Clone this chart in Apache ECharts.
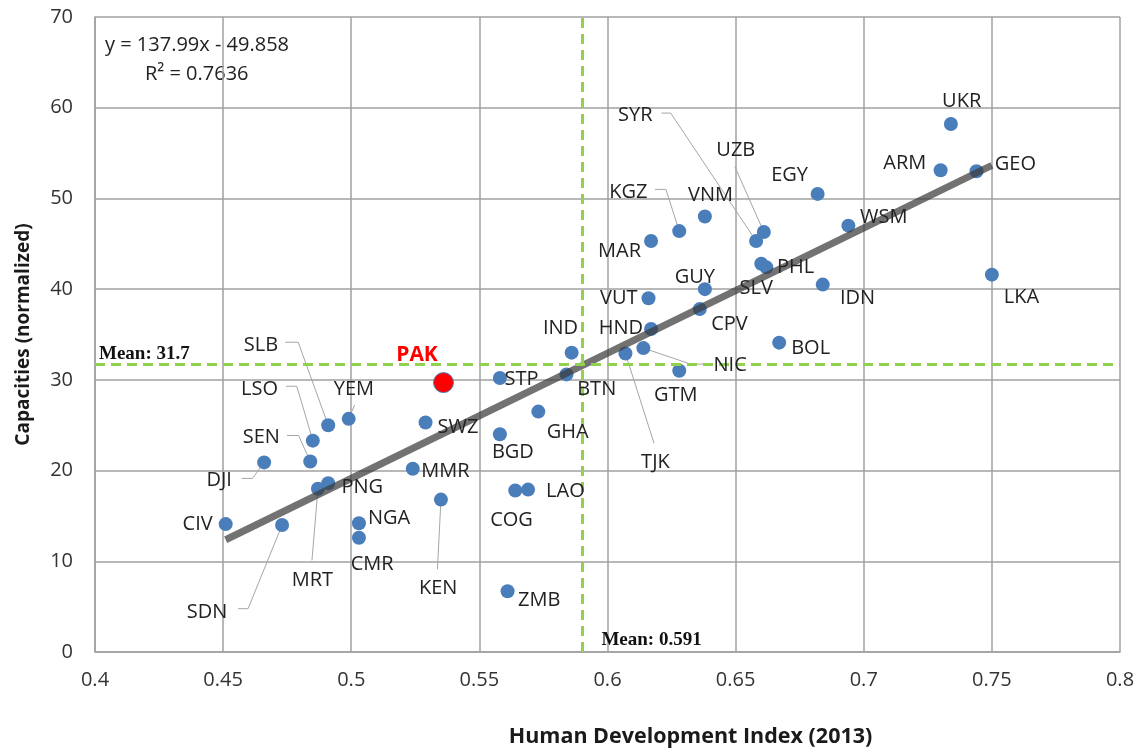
<!DOCTYPE html>
<html>
<head>
<meta charset="utf-8">
<script src="https://cdn.jsdelivr.net/npm/echarts@6/dist/echarts.min.js"></script>
<style>
  html, body { margin: 0; padding: 0; background: #ffffff; }
  #chart { width: 1141px; height: 753px; }
</style>
</head>
<body>
<div id="chart"></div>
<script>
// Country codes, HDI 2013 and normalized capacity scores
const countries = ['CIV','SDN','DJI','SEN','LSO','SLB','YEM','MRT','PNG','NGA','CMR','MMR','SWZ','KEN','PAK',
  'STP','BGD','GHA','COG','LAO','ZMB','IND','BTN','TJK','NIC','GTM','HND','VUT','CPV','GUY','MAR','KGZ','VNM',
  'SYR','UZB','SLV','PHL','EGY','IDN','BOL','WSM','ARM','GEO','UKR','LKA'];
const hdi = [0.451,0.473,0.466,0.484,0.485,0.491,0.499,0.487,0.491,0.503,0.503,0.524,0.529,0.535,0.536,
  0.558,0.558,0.573,0.564,0.569,0.561,0.586,0.584,0.607,0.614,0.628,0.617,0.616,0.636,0.638,0.617,0.628,0.638,
  0.658,0.661,0.660,0.662,0.682,0.684,0.667,0.694,0.730,0.744,0.734,0.750];
const capacities = [14.1,14.0,20.9,21.0,23.3,25.0,25.7,18.0,18.6,14.2,12.6,20.2,25.3,16.8,29.7,
  30.2,24.0,26.5,17.8,17.9,6.7,33.0,30.6,32.9,33.5,31.0,35.6,39.0,37.8,40.0,45.3,46.4,48.0,
  45.3,46.3,42.8,42.4,50.5,40.5,34.1,47.0,53.1,53.0,58.2,41.6];
const highlightCountry = 'PAK';

// Axis ranges and reference values
const xRange = [0.4, 0.8, 0.05];
const yRange = [0, 70, 10];
const meanHdi = 0.591;
const meanCapacity = 31.7;
const trendSlope = 137.99;
const trendIntercept = -49.858;
const rSquared = 0.7636;

// Label offsets from each marker (px): [dx, dy, align]
const labelPlacement = {
  CIV: [-13, 0, 'right'],  SDN: [-75, 87, 'center'], DJI: [-45, 17.7, 'center'], SEN: [-49, -24.4, 'center'],
  LSO: [-53.3, -51.7, 'center'], SLB: [-67.2, -80, 'center'], YEM: [5.2, -30, 'center'], MRT: [-5.5, 91.7, 'center'],
  PNG: [13.3, 4, 'left'], NGA: [9, -4.7, 'left'], CMR: [13.2, 26.7, 'center'], MMR: [8.5, 2.7, 'left'],
  SWZ: [12, 4.5, 'left'], KEN: [-2.8, 89, 'center'], PAK: [-26.5, -27.3, 'center'], STP: [4.6, 1.7, 'left'],
  BGD: [13, 18.3, 'center'], GHA: [29.3, 20.7, 'center'], COG: [-3.7, 29.4, 'center'], LAO: [18, 2, 'left'],
  ZMB: [10.4, 9, 'left'], IND: [-11.1, -24, 'center'], BTN: [30.2, 14.7, 'center'], TJK: [30, 109, 'center'],
  NIC: [86.8, 17.2, 'center'], GTM: [-3.6, 24.4, 'center'], HND: [-8, -0.5, 'right'], VUT: [-11, 0, 'right'],
  CPV: [29.7, 15, 'center'], GUY: [-10, -11.7, 'center'], MAR: [-10, 10.7, 'right'], KGZ: [-51, -39, 'center'],
  VNM: [5.6, -21, 'center'], SYR: [-120.9, -125.6, 'center'], UZB: [-28, -82, 'center'], SLV: [-5, 24.3, 'center'],
  PHL: [10.7, 0, 'left'], EGY: [-28, -18.3, 'center'], IDN: [34.8, 14, 'center'], BOL: [12, 5.3, 'left'],
  WSM: [11.6, -8.4, 'left'], ARM: [-14.3, -7.4, 'right'], GEO: [18.3, -6.7, 'left'], UKR: [10.8, -22.6, 'center'],
  LKA: [29.5, 23, 'center']
};

// Leader line bends relative to the marker (px); the line ends at the marker
const leaderLines = {
  SLB: [[-43, -83], [-30, -83]],
  LSO: [[-27, -54.4], [-16, -54.4]],
  SEN: [[-23.3, -26], [-11.7, -26]],
  DJI: [[-22.6, 16], [-11.6, 16]],
  SDN: [[-44, 83.7], [-34, 83.7]],
  MRT: [[-6, 71.7]],
  KEN: [[-3.5, 69.7]],
  YEM: [[6, -14]],
  TJK: [[28.6, 89.7]],
  NIC: [[65.3, 16], [47.3, 16]],
  KGZ: [[-24.3, -41.7], [-13.3, -41.7]],
  SYR: [[-94.7, -128], [-85.4, -128]],
  UZB: [[-29, -65.4]]
};

const FONT = '"Open Sans", "Noto Sans", sans-serif';
const points = countries.map((c, i) => [hdi[i], capacities[i]]);
const bluePoints = points.filter((p, i) => countries[i] !== highlightCountry);
const redPoints = points.filter((p, i) => countries[i] === highlightCountry);

const xLo = Math.min(...hdi), xHi = Math.max(...hdi);
const trendData = [[xLo, trendSlope * xLo + trendIntercept], [xHi, trendSlope * xHi + trendIntercept]];

const meanLabels = [
  { value: [xRange[0], meanCapacity], text: 'Mean: ' + meanCapacity, dx: 4, dy: -10.7 },
  { value: [meanHdi, yRange[0]], text: 'Mean: ' + meanHdi, dx: 17, dy: -12.3 }
];

const chart = echarts.init(document.getElementById('chart'), null, { renderer: 'canvas' });

const axisLineStyle = { color: '#a0a0a0', width: 1.5 };

chart.setOption({
  animation: false,
  backgroundColor: '#ffffff',
  grid: { left: 95, right: 21, top: 17, bottom: 99, containLabel: false },
  xAxis: {
    type: 'value', min: xRange[0], max: xRange[1], interval: xRange[2],
    name: 'Human Development Index (2013)', nameLocation: 'middle', nameGap: 74,
    nameTextStyle: { fontFamily: FONT, fontSize: 21.5, fontWeight: 'bold', color: '#1a1a1a', padding: [0, 0, 0, 166] },
    axisLine: { show: true, lineStyle: axisLineStyle },
    axisTick: { show: false },
    axisLabel: { fontFamily: FONT, fontSize: 20, color: '#333333', margin: 18 },
    splitLine: { show: true, lineStyle: axisLineStyle }
  },
  yAxis: {
    type: 'value', min: yRange[0], max: yRange[1], interval: yRange[2],
    name: 'Capacities (normalized)', nameLocation: 'middle', nameGap: 62,
    nameTextStyle: { fontFamily: FONT, fontSize: 19, fontWeight: 'bold', color: '#1a1a1a' },
    axisLine: { show: true, lineStyle: axisLineStyle },
    axisTick: { show: false },
    axisLabel: { fontFamily: FONT, fontSize: 20, color: '#333333', margin: 22 },
    splitLine: { show: true, lineStyle: axisLineStyle }
  },
  graphic: [
    { type: 'text', x: 105, y: 45, silent: true,
      style: { text: 'y = ' + trendSlope + 'x - ' + Math.abs(trendIntercept), font: '20px ' + FONT, fill: '#222222', verticalAlign: 'middle' } },
    { type: 'text', x: 145, y: 74, silent: true,
      style: { text: 'R\u00b2 = ' + rSquared, font: '20px ' + FONT, fill: '#222222', verticalAlign: 'middle' } }
  ],
  series: [
    {
      // mean reference lines
      type: 'line', data: [], z: 1, silent: true,
      markLine: {
        silent: true, symbol: 'none', animation: false,
        lineStyle: { color: '#92d050', width: 3, type: [10, 6] },
        label: { show: false },
        data: [{ yAxis: meanCapacity }, { xAxis: meanHdi }]
      }
    },
    {
      // leader lines from labels to markers
      type: 'custom', z: 2, silent: true,
      data: points,
      renderItem: function (params, api) {
        const lead = leaderLines[countries[params.dataIndex]];
        if (!lead) return null;
        const pt = api.coord([api.value(0), api.value(1)]);
        const pts = lead.map(o => [pt[0] + o[0], pt[1] + o[1]]).concat([pt]);
        return { type: 'polyline', shape: { points: pts }, style: { stroke: '#a6a6a6', lineWidth: 1, fill: null } };
      }
    },
    {
      name: 'Countries', type: 'scatter', z: 3, data: bluePoints,
      symbolSize: 14, itemStyle: { color: '#4a7ebb', opacity: 1 }
    },
    {
      name: highlightCountry, type: 'scatter', z: 3, data: redPoints,
      symbolSize: 20, itemStyle: { color: '#ff0000', borderColor: '#4a7ebb', borderWidth: 1, opacity: 1 }
    },
    {
      name: 'Trend', type: 'line', z: 4, data: trendData, symbol: 'none', silent: true,
      lineStyle: { color: 'rgba(60,60,60,0.72)', width: 7, cap: 'butt' }
    },
    {
      // country code labels
      type: 'custom', z: 5, silent: true,
      data: points,
      renderItem: function (params, api) {
        const code = countries[params.dataIndex];
        const p = labelPlacement[code];
        const pt = api.coord([api.value(0), api.value(1)]);
        const hi = code === highlightCountry;
        return {
          type: 'text', x: pt[0] + p[0], y: pt[1] + p[1],
          style: {
            text: code, fill: hi ? '#ff0000' : '#222222',
            font: (hi ? 'bold 21px ' : '20px ') + FONT,
            align: p[2], verticalAlign: 'middle'
          }
        };
      }
    },
    {
      // mean value captions
      type: 'custom', z: 5, silent: true,
      data: meanLabels.map(m => m.value),
      renderItem: function (params, api) {
        const m = meanLabels[params.dataIndex];
        const pt = api.coord([api.value(0), api.value(1)]);
        return {
          type: 'text', x: pt[0] + m.dx, y: pt[1] + m.dy,
          style: { text: m.text, fill: '#111111', font: 'bold 19px "Liberation Serif", "DejaVu Serif", serif', align: 'left', verticalAlign: 'middle' }
        };
      }
    }
  ]
});
</script>
</body>
</html>
